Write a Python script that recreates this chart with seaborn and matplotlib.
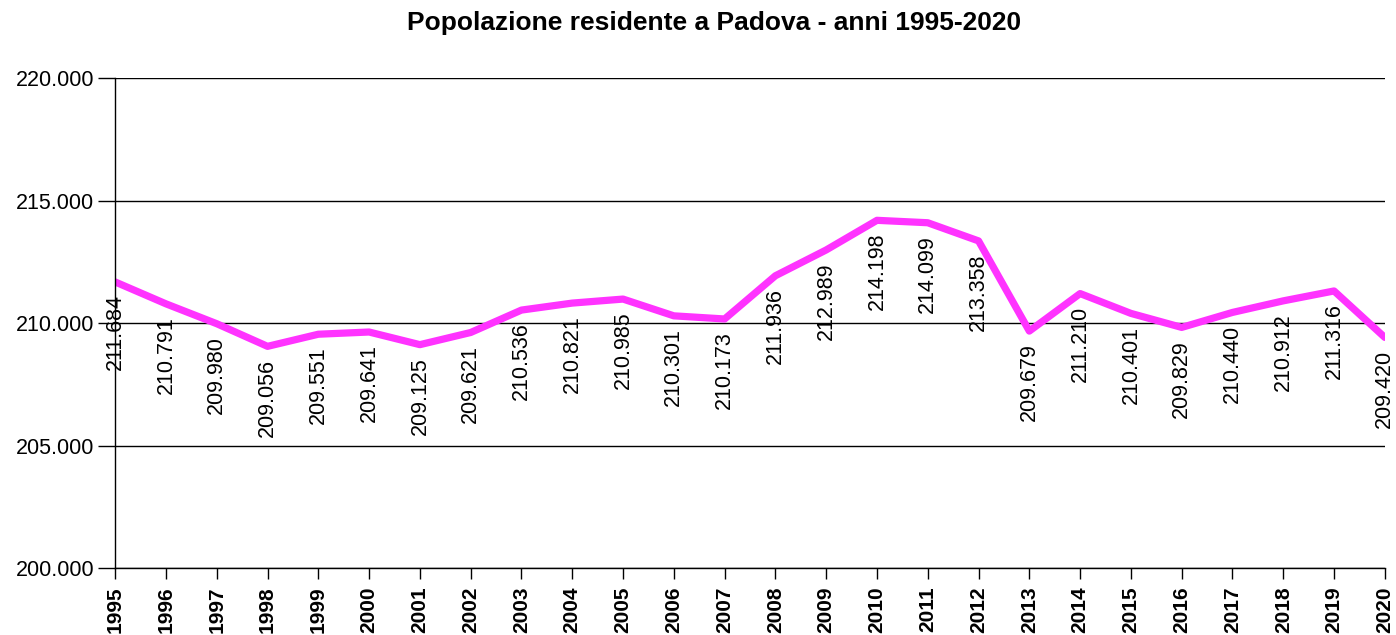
import matplotlib
matplotlib.use("Agg")
import matplotlib.pyplot as plt
import matplotlib.ticker as mticker
import pandas as pd
import seaborn as sns

anni = list(range(1995, 2021))
residenti = [211684, 210791, 209980, 209056, 209551, 209641, 209125, 209621,
             210536, 210821, 210985, 210301, 210173, 211936, 212989, 214198,
             214099, 213358, 209679, 211210, 210401, 209829, 210440, 210912,
             211316, 209420]

df = pd.DataFrame({"anno": anni, "residenti": residenti})

sns.set_style("white")
plt.rcParams['font.family'] = ['Liberation Sans', 'DejaVu Sans']
plt.rcParams['text.color'] = 'black'
plt.rcParams['xtick.color'] = 'black'
plt.rcParams['ytick.color'] = 'black'

fig, ax = plt.subplots(figsize=(13.96, 6.35), dpi=100)
fig.subplots_adjust(left=0.0825, right=0.992, top=0.877, bottom=0.105)

sns.lineplot(data=df, x="anno", y="residenti", color="#ff33ff", linewidth=5.2, ax=ax)


def fmt_it(v, pos=None):
    return f"{int(round(v)):,}".replace(",", ".")


# etichette sotto ogni punto, ruotate
for a, r in zip(anni, residenti):
    ax.annotate(fmt_it(r), (a, r), xytext=(0, -9), textcoords="offset points",
                rotation=90, ha="center", va="top", fontsize=15.5, color="black")

ax.set_xlim(1995, 2020)
ax.set_ylim(200000, 220000)
ax.set_yticks([200000, 205000, 210000, 215000, 220000])
ax.yaxis.set_major_formatter(mticker.FuncFormatter(fmt_it))
ax.set_xticks(anni)
ax.set_xticklabels([str(a) for a in anni], rotation=90, fontweight="bold", fontsize=15)
ax.tick_params(axis="y", labelsize=15.5, length=12, width=1, direction="out", left=True, pad=3,
               labelcolor="black")
ax.tick_params(axis="x", length=8, width=1, direction="out", bottom=True, pad=5,
               labelcolor="black")
ax.grid(axis="y", color="black", linewidth=1)
ax.set_axisbelow(True)

sns.despine(ax=ax, top=True, right=True)
for s in ["left", "bottom"]:
    ax.spines[s].set_color("black")
    ax.spines[s].set_linewidth(1)

ax.set_xlabel("")
ax.set_ylabel("")
fig.text(714 / 1396, 1 - 23 / 635, "Popolazione residente a Padova - anni 1995-2020",
         fontsize=19, fontweight="bold", ha="center", va="center", color="black")

fig.savefig("out.png", dpi=100)
